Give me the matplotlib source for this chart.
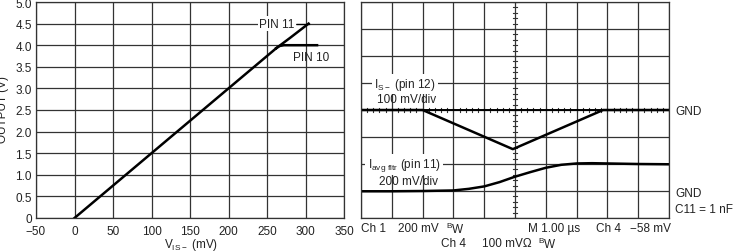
import matplotlib
matplotlib.use("Agg")
import matplotlib.pyplot as plt
import numpy as np

plt.rcParams['font.family'] = ['Liberation Sans', 'DejaVu Sans']

# Left chart data
vis_mv = [0, 50, 100, 150, 200, 250, 262]
out_v = [0, 0.75, 1.5, 2.25, 3.0, 3.75, 3.93]
pin11_mv = [262, 280, 304]
pin11_v = [3.93, 4.17, 4.5]
pin10_mv = [262, 266, 272, 315]
pin10_v = [3.93, 3.98, 4.0, 4.0]
x_ticks = [-50, 0, 50, 100, 150, 200, 250, 300, 350]
y_ticks = [0, 0.5, 1.0, 1.5, 2.0, 2.5, 3.0, 3.5, 4.0, 4.5, 5.0]
y_labels = ['0', '0.5', '1.0', '1.5', '2.0', '2.5', '3.0', '3.5', '4.0', '4.5', '5.0']

# Right scope data (divisions)
is_t = [0, 2.0, 4.93, 7.86, 10]
is_v = [4.0, 4.0, 2.55, 4.0, 4.0]
avg_t = [0, 1, 2, 3, 3.5, 4, 4.5, 5, 5.5, 6, 6.5, 7, 7.5, 8, 9, 10]
avg_v = [0.99, 0.99, 1.0, 1.02, 1.08, 1.17, 1.33, 1.53, 1.7, 1.86, 1.97, 2.02, 2.03, 2.02, 2.0, 1.99]

fig = plt.figure(figsize=(7.35, 2.53), dpi=100)
gc = '#333333'
tc = '#222222'
fs = 8.5

# Left axes
ax = fig.add_axes([36/735, 1-219/253, (344-36)/735, (219-3)/253])
ax.set_xlim(-50, 350)
ax.set_ylim(0, 5.0)
ax.set_xticks(x_ticks)
ax.set_xticklabels(['\u221250'] + [str(v) for v in x_ticks[1:]], fontsize=fs, color=tc)
ax.set_yticks(y_ticks)
ax.set_yticklabels(y_labels, fontsize=fs, color=tc)
ax.tick_params(axis='x', length=0, pad=5)
ax.tick_params(axis='y', length=0, pad=3)
ax.grid(True, color=gc, lw=0.9)
for s in ax.spines.values():
    s.set_color(gc)
    s.set_linewidth(0.9)
ax.plot(vis_mv, out_v, color='black', lw=1.8)
ax.plot(pin11_mv, pin11_v, color='black', lw=1.8)
ax.plot(pin10_mv, pin10_v, color='black', lw=1.8)
ax.text(263, 4.5, 'PIN 11', fontsize=fs, ha='center', va='center', color=tc,
        bbox=dict(facecolor='white', edgecolor='none', pad=1.0))
ax.plot([289, 304], [4.5, 4.5], color='black', lw=0.9)
ax.text(307, 3.73, 'PIN 10', fontsize=fs, ha='center', va='center', color=tc)
fig.text(191/735, 1 - 245/253, 'V$_{\\mathregular{IS\u2212}}$ (mV)', fontsize=fs, ha='center', va='center', color=tc)
fig.text(0.004, 1 - 110/253, 'OUTPUT (V)', rotation=90, fontsize=fs, ha='center', va='center', color=tc)

# Right scope axes
bx = fig.add_axes([361/735, 1-219/253, (669-361)/735, (219-3)/253])
bx.set_xlim(0, 10)
bx.set_ylim(0, 8)
bx.set_xticks(range(11))
bx.set_yticks(range(9))
bx.set_xticklabels([])
bx.set_yticklabels([])
bx.tick_params(length=0)
bx.grid(True, color=gc, lw=0.9)
for s in bx.spines.values():
    s.set_color(gc)
    s.set_linewidth(0.9)
# minor ticks on centre axes
mt = np.arange(0, 10.01, 0.2)
for t in mt:
    bx.plot([t, t], [4 - 0.09, 4 + 0.09], color=gc, lw=0.8)
mv = np.arange(0, 8.01, 0.2)
for v in mv:
    bx.plot([5 - 0.06, 5 + 0.06], [v, v], color=gc, lw=0.8)
bx.plot([0, 10], [4, 4], color='black', lw=1.4)
bx.plot(is_t, is_v, color='black', lw=1.8)
bx.plot(avg_t, avg_v, color='black', lw=1.8)

bx.text(1.43, 4.97, 'I$_{\\mathregular{S\u2212}}$ (pin 12)', fontsize=fs, ha='center', va='center', color=tc,
        bbox=dict(facecolor='white', edgecolor='none', pad=1.5))
bx.text(1.49, 4.42, '100 mV/div', fontsize=fs, ha='center', va='center', color=tc)
bx.text(1.4, 1.98, 'I$_{\\mathregular{avg\\ fltr}}$ (pin 11)', fontsize=fs, ha='center', va='center', color=tc,
        bbox=dict(facecolor='white', edgecolor='none', pad=1.5))
bx.text(1.55, 1.38, '200 mV/div', fontsize=fs, ha='center', va='center', color=tc)

fig.text(675/735, 1 - 112/253, 'GND', fontsize=fs, ha='left', va='center', color=tc)
fig.text(675/735, 1 - 194/253, 'GND', fontsize=fs, ha='left', va='center', color=tc)
fig.text(675/735, 1 - 210/253, 'C11 = 1 nF', fontsize=fs, ha='left', va='center', color=tc)

r1 = 1 - 229/253
r2 = 1 - 244/253
fig.text(361/735, r1, 'Ch 1', fontsize=fs, ha='left', va='center', color=tc)
fig.text(398/735, r1, '200 mV', fontsize=fs, ha='left', va='center', color=tc)
fig.text(446/735, r1, '$^{\\mathregular{B}}$W', fontsize=fs, ha='left', va='center', color=tc)
fig.text(528/735, r1, 'M 1.00 \u00b5s', fontsize=fs, ha='left', va='center', color=tc)
fig.text(596/735, r1, 'Ch 4', fontsize=fs, ha='left', va='center', color=tc)
fig.text(630/735, r1, '\u221258 mV', fontsize=fs, ha='left', va='center', color=tc)
fig.text(441/735, r2, 'Ch 4', fontsize=fs, ha='left', va='center', color=tc)
fig.text(482/735, r2, '100 mV\u03a9', fontsize=fs, ha='left', va='center', color=tc)
fig.text(538/735, r2, '$^{\\mathregular{B}}$W', fontsize=fs, ha='left', va='center', color=tc)

fig.savefig('out.png', dpi=100)
